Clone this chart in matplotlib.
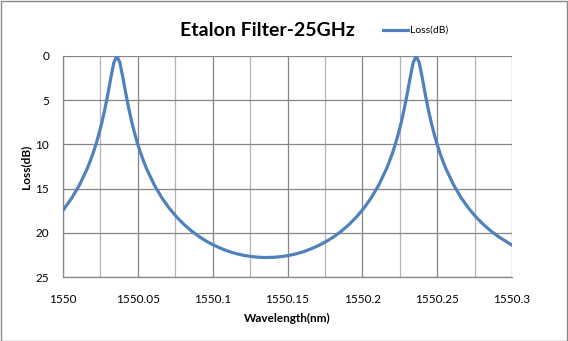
import matplotlib
matplotlib.use("Agg")
import matplotlib.pyplot as plt
from matplotlib.ticker import MultipleLocator
from matplotlib.lines import Line2D

# Wavelength (nm) and loss (dB)
wavelength = [
    1550.000, 1550.001, 1550.006, 1550.011, 1550.016, 1550.018, 1550.020,
    1550.022, 1550.024, 1550.026, 1550.028, 1550.030, 1550.032, 1550.034,
    1550.036, 1550.038, 1550.040, 1550.042, 1550.044, 1550.046, 1550.048,
    1550.050, 1550.052, 1550.054, 1550.056, 1550.061, 1550.066, 1550.071,
    1550.076, 1550.081, 1550.086, 1550.091, 1550.096, 1550.101, 1550.106,
    1550.111, 1550.116, 1550.121, 1550.126, 1550.131, 1550.136, 1550.141,
    1550.146, 1550.151, 1550.156, 1550.161, 1550.166, 1550.171, 1550.176,
    1550.181, 1550.186, 1550.191, 1550.196, 1550.201, 1550.206, 1550.211,
    1550.216, 1550.218, 1550.220, 1550.222, 1550.224, 1550.226, 1550.228,
    1550.230, 1550.232, 1550.234, 1550.236, 1550.238, 1550.240, 1550.242,
    1550.244, 1550.246, 1550.248, 1550.250, 1550.252, 1550.254, 1550.256,
    1550.261, 1550.266, 1550.271, 1550.276, 1550.281, 1550.286, 1550.291,
    1550.296, 1550.300,
]
loss_db = [
    17.44, 17.22, 16.03, 14.59, 12.81, 11.97, 11.05,
    10.01, 8.82, 7.51, 5.99, 4.28, 2.42, 0.74,
    0.00, 0.74, 2.42, 4.28, 5.99, 7.51, 8.82,
    10.01, 11.05, 11.97, 12.81, 14.59, 16.03, 17.22,
    18.23, 19.08, 19.81, 20.44, 20.97, 21.42, 21.80,
    22.12, 22.37, 22.56, 22.69, 22.77, 22.80, 22.77,
    22.69, 22.56, 22.37, 22.12, 21.80, 21.42, 20.97,
    20.44, 19.81, 19.08, 18.23, 17.22, 16.03, 14.59,
    12.81, 11.97, 11.05, 10.01, 8.82, 7.51, 5.99,
    4.28, 2.42, 0.74, 0.00, 0.74, 2.42, 4.28,
    5.99, 7.51, 8.82, 10.01, 11.05, 11.97, 12.81,
    14.59, 16.03, 17.22, 18.23, 19.08, 19.81, 20.44,
    20.97, 21.40,
]
x_ticks = [1550.0, 1550.05, 1550.1, 1550.15, 1550.2, 1550.25, 1550.3]
x_tick_labels = ["1550", "1550.05", "1550.1", "1550.15", "1550.2", "1550.25", "1550.3"]
y_ticks = [0, 5, 10, 15, 20, 25]

plt.rcParams['font.family'] = ['Lato', 'DejaVu Sans']

W, H = 568, 341
fig = plt.figure(figsize=(W / 100, H / 100), dpi=100)
fig.patch.set_facecolor("white")
# outer border
fig.add_artist(plt.Rectangle((0.5 / W, 0.5 / H), 1 - 1.5 / W, 1 - 1.5 / H,
                             transform=fig.transFigure, fill=False,
                             edgecolor="#888888", linewidth=1.0))

left, right, top, bottom = 63, 512, 56, 277
ax = fig.add_axes([left / W, 1 - bottom / H, (right - left) / W, (bottom - top) / H])

line_color = "#4F81BD"
ax.plot(wavelength, loss_db, color=line_color, linewidth=2.3, label="Loss(dB)",
        solid_joinstyle="round", zorder=3)

ax.set_xlim(1550.0, 1550.3)
ax.set_ylim(25, 0)
ax.set_xticks(x_ticks)
ax.set_xticklabels(x_tick_labels)
ax.set_yticks(y_ticks)
ax.xaxis.set_minor_locator(MultipleLocator(0.025))

ax.grid(which="major", axis="both", color="#868686", linewidth=0.9)
ax.grid(which="minor", axis="x", color="#B4B4B4", linewidth=0.9)
ax.set_axisbelow(True)

for side in ["top", "right"]:
    ax.spines[side].set_visible(False)
for side in ["left", "bottom"]:
    ax.spines[side].set_color("#868686")
    ax.spines[side].set_linewidth(0.9)

ax.tick_params(axis="both", which="both", length=0, labelsize=8.5, colors="black")
ax.tick_params(axis="y", pad=10)
ax.tick_params(axis="x", pad=12)

ax.set_xlabel("Wavelength(nm)", fontsize=8.5, fontweight="bold", labelpad=6)
ax.set_ylabel("Loss(dB)", fontsize=8.5, fontweight="bold", labelpad=3)

fig.text(267 / W, 1 - 30 / H, "Etalon Filter-25GHz", fontsize=14, fontweight="bold",
         ha="center", va="center")

# legend
fig.add_artist(Line2D([383 / W, 408 / W], [1 - 30 / H, 1 - 30 / H],
                      transform=fig.transFigure, color=line_color, linewidth=2.3))
fig.text(410 / W, 1 - 30 / H, "Loss(dB)", fontsize=7.5, ha="left", va="center")

fig.savefig("out.png", dpi=100, facecolor="white")
